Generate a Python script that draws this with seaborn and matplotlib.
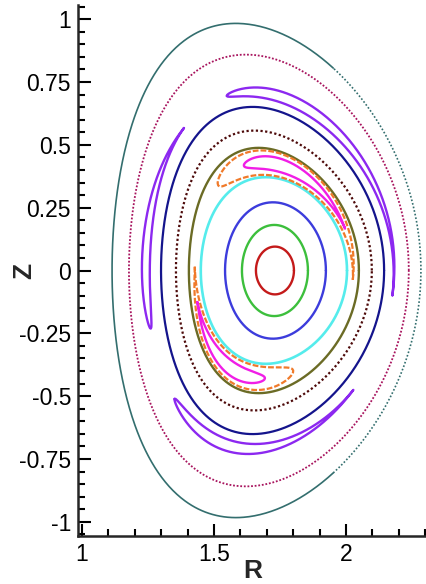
import numpy as np
import matplotlib
matplotlib.use("Agg")
import matplotlib.pyplot as plt
import seaborn as sns
from matplotlib.ticker import MultipleLocator

# ---- nested flux surfaces ----
# shape: R = R0 + a cos(t + delta sin t), Z = kappa a sin t
SURF_NAMES = ["red", "green", "blue", "cyan", "olive", "brown", "navy", "crimson", "teal"]
SURF_R0    = [1.731, 1.731, 1.733, 1.727, 1.727, 1.727, 1.722, 1.708, 1.699]
SURF_A     = [0.072, 0.125, 0.191, 0.277, 0.322, 0.371, 0.4225, 0.530, 0.585]
SURF_KAPPA = [1.32, 1.45, 1.42, 1.34, 1.515, 1.50, 1.54, 1.62, 1.68]
SURF_DELTA = [0.00, 0.02, 0.05, 0.11, 0.18, 0.20, 0.18, 0.165, 0.20]

# ---- island chains: mid surface (R0, a, kappa, delta) ----
INNER_CHAIN = [1.7275, 0.30, 1.43, 0.15]
OUTER_CHAIN = [1.712, 0.47, 1.51, 0.15]

# islands: poloidal angle range (deg), half width, which end is the fat one
ORANGE_THETA = [(-5, 128), (178, 292)]
ORANGE_WIDTH = 0.034
MAGENTA_THETA = [(23, 104), (197, 272)]
MAGENTA_WIDTH = 0.019
PURPLE_THETA = [(-8, 102), (127, 199), (226, 318)]
PURPLE_FAT_END = ["end", "end", "start"]
PURPLE_WIDTH = 0.015

X_TICKS = [1, 1.5, 2]
X_TICK_LABELS = ["1", "1.5", "2"]
Y_TICKS = [1, 0.75, 0.5, 0.25, 0, -0.25, -0.5, -0.75, -1]
Y_TICK_LABELS = ["1", "0.75", "0.5", "0.25", "0", "-0.25", "-0.5", "-0.75", "-1"]

STYLE = {
    "red":     dict(color="#c41a1a", lw=1.7),
    "green":   dict(color="#3cbf3c", lw=1.7),
    "blue":    dict(color="#3c3cdc", lw=1.7),
    "cyan":    dict(color="#55ecec", lw=1.9),
    "olive":   dict(color="#6b6b25", lw=1.7),
    "brown":   dict(color="#4d0a0a", lw=1.6, ls=(0, (1, 1.1))),
    "navy":    dict(color="#14148c", lw=1.6),
    "crimson": dict(color="#a8145e", lw=1.3, ls=(0, (1, 1))),
    "teal":    dict(color="#336e6e", lw=1.2),
}
ORANGE = dict(color="#f07a2a", lw=1.6, ls=(0, (2.6, 0.9)))
MAGENTA = dict(color="#f01ee6", lw=1.7)
PURPLE = dict(color="#8c28f0", lw=1.7)


def surface(r0, a, kappa, delta, theta_deg, d=0.0):
    t = np.radians(theta_deg)
    R = r0 + (a + d) * np.cos(t + delta * np.sin(t))
    Z = kappa * (a + d) * np.sin(t)
    return R, Z


def crescent(chain, th1, th2, width, fat="end", n=300):
    u = np.linspace(0, 1, n)
    p = np.sqrt(np.clip(np.sin(np.pi * u), 0, None)) * u ** 0.8
    p /= p.max()
    if fat == "start":
        p = p[::-1]
    th = np.linspace(th1, th2, n)
    r_out, z_out = surface(*chain, th, d=width * p)
    r_in, z_in = surface(*chain, th[::-1], d=-width * p[::-1])
    R = np.concatenate([r_out, r_in, r_out[:1]])
    Z = np.concatenate([z_out, z_in, z_out[:1]])
    return R, Z


def draw(ax, R, Z, st):
    sns.lineplot(x=R, y=Z, sort=False, estimator=None, ax=ax,
                 color=st["color"], linewidth=st["lw"],
                 linestyle=st.get("ls", "-"))


sns.set_style("ticks")
plt.rcParams["font.family"] = ["Liberation Sans", "DejaVu Sans"]

fig = plt.figure(figsize=(4.27, 5.84), dpi=100)
ax = fig.add_axes([78 / 427, 48 / 584, 349 / 427, 531 / 584])

theta = np.linspace(0, 360, 721)
for i, name in enumerate(SURF_NAMES):
    pars = (SURF_R0[i], SURF_A[i], SURF_KAPPA[i], SURF_DELTA[i])
    if name == "teal":
        # outboard side is sparse (dotted), inboard side dense
        th_solid = np.linspace(55, 305, 500)
        R, Z = surface(*pars, th_solid)
        draw(ax, R, Z, STYLE[name])
        th_dot = np.linspace(-55, 55, 220)
        R, Z = surface(*pars, th_dot)
        draw(ax, R, Z, dict(STYLE[name], ls=(0, (1, 1.2))))
    else:
        R, Z = surface(*pars, theta)
        draw(ax, R, Z, STYLE[name])

for th1, th2 in ORANGE_THETA:
    R, Z = crescent(INNER_CHAIN, th1, th2, ORANGE_WIDTH, "end")
    draw(ax, R, Z, ORANGE)
for th1, th2 in MAGENTA_THETA:
    R, Z = crescent(INNER_CHAIN, th1, th2, MAGENTA_WIDTH, "end")
    draw(ax, R, Z, MAGENTA)
for (th1, th2), fat in zip(PURPLE_THETA, PURPLE_FAT_END):
    R, Z = crescent(OUTER_CHAIN, th1, th2, PURPLE_WIDTH, fat)
    draw(ax, R, Z, PURPLE)

ax.set_xlim(0.985, 2.307)
ax.set_ylim(-1.056, 1.056)
ax.set_xticks(X_TICKS)
ax.set_xticklabels(X_TICK_LABELS)
ax.set_yticks(Y_TICKS)
ax.set_yticklabels(Y_TICK_LABELS)
ax.xaxis.set_minor_locator(MultipleLocator(0.1))
ax.yaxis.set_minor_locator(MultipleLocator(0.05))

sns.despine(ax=ax)
for s in ["left", "bottom"]:
    ax.spines[s].set_linewidth(1.8)
ax.tick_params(which="both", direction="in", width=1.5, colors="black",
               labelsize=16.5, pad=5)
ax.tick_params(which="major", length=9)
ax.tick_params(which="minor", length=5)

ax.set_xlabel("R", fontsize=19, fontweight="bold")
ax.set_ylabel("Z", fontsize=19, fontweight="bold")
ax.xaxis.set_label_coords(0.5, -0.043)
ax.yaxis.set_label_coords(-0.12, 0.5)

fig.savefig("out.png", dpi=100)
